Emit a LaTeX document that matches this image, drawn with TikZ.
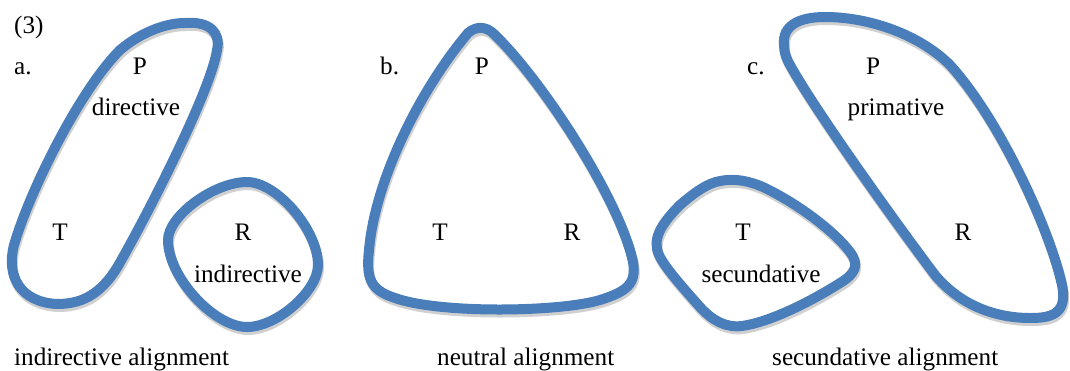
\documentclass[tikz,border=0pt]{standalone}
\usepackage{fontspec}
\setmainfont{Liberation Serif}
\definecolor{blob}{RGB}{74,126,187}
\definecolor{shade}{RGB}{208,208,208}
\tikzset{
  blobline/.style={draw=blob, line width=10pt, line join=round,
    preaction={draw=shade, line width=10pt, transform canvas={xshift=1pt,yshift=-3pt}}},
  lbl/.style={inner sep=0pt, anchor=base, font=\fontsize{25.2}{30}\selectfont},
  lblw/.style={lbl, anchor=base west}
}
\begin{document}
\begin{tikzpicture}[x=1pt,y=-1pt]
\useasboundingbox (0,0) rectangle (1070,370);
% a: P+T
\path[blobline] (185,23) .. controls (210,21) and (221,33) .. (217,50)
  .. controls (211,90) and (150,210) .. (118,266)
  .. controls (100,296) and (80,304) .. (57,304)
  .. controls (20,302) and (6,276) .. (14,245)
  .. controls (30,190) and (80,90) .. (120,50)
  .. controls (140,33) and (165,23) .. (185,23) -- cycle;
% a: R
\path[blobline] (247,182) .. controls (214,182) and (168,216) .. (168,240)
  .. controls (168,277) and (214,327) .. (247,327)
  .. controls (277,327) and (318,291) .. (318,265)
  .. controls (318,230) and (277,182) .. (247,182) -- cycle;
% b: P+T+R
\path[blobline] (468,33) .. controls (476,26) and (486,26) .. (494,34)
  .. controls (542,80) and (620,200) .. (633,262)
  .. controls (637,285) and (625,292) .. (600,300)
  .. controls (560,312) and (440,314) .. (395,298)
  .. controls (370,290) and (366,278) .. (369,250)
  .. controls (375,180) and (420,90) .. (468,33) -- cycle;
% c: T
\path[blobline] (720,181) .. controls (735,178) and (750,181) .. (765,188)
  .. controls (800,205) and (835,232) .. (850,252)
  .. controls (860,265) and (855,274) .. (840,283)
  .. controls (810,302) and (770,322) .. (742,326)
  .. controls (725,328) and (712,320) .. (700,307)
  .. controls (685,290) and (665,268) .. (659,255)
  .. controls (652,240) and (660,225) .. (680,205)
  .. controls (695,192) and (708,183) .. (720,181) -- cycle;
% c: P+R
\path[blobline] (784,45) .. controls (782,25) and (800,17) .. (825,17)
  .. controls (870,17) and (920,35) .. (950,65)
  .. controls (1000,120) and (1050,230) .. (1062,285)
  .. controls (1068,315) and (1050,318) .. (1030,318)
  .. controls (995,318) and (960,305) .. (935,275)
  .. controls (890,215) and (815,110) .. (790,65)
  .. controls (786,58) and (784,52) .. (784,45) -- cycle;
% labels
\node[lblw] (ex) at (14,33) {(3)};
\node[lblw] (la) at (14,74) {a.};
\node[lbl] (pa) at (140,74) {P};
\node[lbl] (dir) at (136,115) {directive};
\node[lbl] (ta) at (60,240) {T};
\node[lbl] (ra) at (243,240) {R};
\node[lbl] (ind) at (248,282) {indirective};
\node[lblw] (capa) at (14,365) {indirective alignment};
\node[lblw] (lb) at (380,74) {b.};
\node[lbl] (pb) at (482,74) {P};
\node[lbl] (tb) at (440,240) {T};
\node[lbl] (rb) at (572,240) {R};
\node[lblw] (capb) at (437,365) {neutral alignment};
\node[lblw] (lc) at (747,74) {c.};
\node[lbl] (pc) at (873,74) {P};
\node[lbl] (prim) at (896,115) {primative};
\node[lbl] (tc) at (743,240) {T};
\node[lbl] (sec) at (761,282) {secundative};
\node[lbl] (rc) at (963,240) {R};
\node[lblw] (capc) at (772,365) {secundative alignment};
\end{tikzpicture}
\end{document}
